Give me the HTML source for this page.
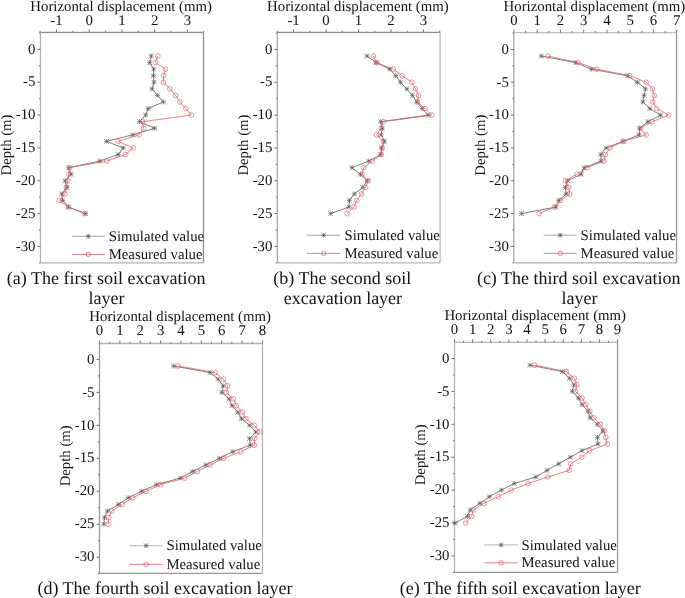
<!DOCTYPE html><html><head><meta charset="utf-8"><style>html,body{margin:0;padding:0;background:#fff;}svg{display:block;text-rendering:geometricPrecision;will-change:transform}</style></head><body><svg width="685" height="598" viewBox="0 0 685 598" font-family='"Liberation Serif", serif'>
<rect width="685" height="598" fill="#fff"/>
<path d="M40.44 32.44H203.48" stroke="#8a8a8a" stroke-width="1.3"/>
<path d="M40.44 32.44V262.78" stroke="#b4b4b4" stroke-width="1.3"/>
<path d="M203.48 32.44V262.78" stroke="#8c8c8c" stroke-width="1.3"/>
<path d="M40.44 262.78H203.48" stroke="#b0b0b0" stroke-width="1.3"/>
<path d="M40.09 32.44V30.84M56.46 32.44V29.44M72.83 32.44V30.84M89.20 32.44V29.44M105.57 32.44V30.84M121.94 32.44V29.44M138.31 32.44V30.84M154.68 32.44V29.44M171.05 32.44V30.84M187.42 32.44V29.44M203.79 32.44V30.84M40.44 32.95H38.94M40.44 49.38H37.44M40.44 65.81H38.94M40.44 82.23H37.44M40.44 98.66H38.94M40.44 115.09H37.44M40.44 131.52H38.94M40.44 147.94H37.44M40.44 164.37H38.94M40.44 180.80H37.44M40.44 197.23H38.94M40.44 213.66H37.44M40.44 230.08H38.94M40.44 246.51H37.44M40.44 262.94H38.94" stroke="#707070" stroke-width="1" fill="none"/>
<text x="56.46" y="24.54" font-size="14.8" text-anchor="middle" fill="#111">-1</text>
<text x="89.20" y="24.54" font-size="14.8" text-anchor="middle" fill="#111">0</text>
<text x="121.94" y="24.54" font-size="14.8" text-anchor="middle" fill="#111">1</text>
<text x="154.68" y="24.54" font-size="14.8" text-anchor="middle" fill="#111">2</text>
<text x="187.42" y="24.54" font-size="14.8" text-anchor="middle" fill="#111">3</text>
<text x="35.44" y="53.58" font-size="14.8" text-anchor="end" fill="#111">0</text>
<text x="35.44" y="86.44" font-size="14.8" text-anchor="end" fill="#111">-5</text>
<text x="35.44" y="119.29" font-size="14.8" text-anchor="end" fill="#111">-10</text>
<text x="35.44" y="152.14" font-size="14.8" text-anchor="end" fill="#111">-15</text>
<text x="35.44" y="185.00" font-size="14.8" text-anchor="end" fill="#111">-20</text>
<text x="35.44" y="217.85" font-size="14.8" text-anchor="end" fill="#111">-25</text>
<text x="35.44" y="250.71" font-size="14.8" text-anchor="end" fill="#111">-30</text>
<text x="121.16" y="10.70" font-size="14.8" text-anchor="middle" fill="#111">Horizontal displacement (mm)</text>
<text transform="translate(11.44,145.01) rotate(-90)" font-size="14.75" text-anchor="middle" fill="#111">Depth (m)</text>
<polyline points="151.30,55.95 149.70,62.52 153.80,69.09 153.40,75.66 154.00,82.23 152.00,88.81 157.50,95.38 163.50,101.95 148.20,108.52 145.60,115.09 139.50,121.66 154.60,128.23 132.90,134.80 106.40,141.37 123.30,147.94 118.30,154.52 99.70,161.09 68.80,167.66 71.10,174.23 65.00,180.80 66.90,187.37 61.70,193.94 62.80,200.51 68.40,207.08 85.40,213.66" fill="none" stroke="#606060" stroke-width="0.8"/>
<path d="M151.30 53.55V58.35M148.90 55.95H153.70M148.90 53.55L153.70 58.35M148.90 58.35L153.70 53.55M149.70 60.12V64.92M147.30 62.52H152.10M147.30 60.12L152.10 64.92M147.30 64.92L152.10 60.12M153.80 66.69V71.49M151.40 69.09H156.20M151.40 66.69L156.20 71.49M151.40 71.49L156.20 66.69M153.40 73.26V78.06M151.00 75.66H155.80M151.00 73.26L155.80 78.06M151.00 78.06L155.80 73.26M154.00 79.83V84.64M151.60 82.23H156.40M151.60 79.83L156.40 84.64M151.60 84.64L156.40 79.83M152.00 86.41V91.21M149.60 88.81H154.40M149.60 86.41L154.40 91.21M149.60 91.21L154.40 86.41M157.50 92.98V97.78M155.10 95.38H159.90M155.10 92.98L159.90 97.78M155.10 97.78L159.90 92.98M163.50 99.55V104.35M161.10 101.95H165.90M161.10 99.55L165.90 104.35M161.10 104.35L165.90 99.55M148.20 106.12V110.92M145.80 108.52H150.60M145.80 106.12L150.60 110.92M145.80 110.92L150.60 106.12M145.60 112.69V117.49M143.20 115.09H148.00M143.20 112.69L148.00 117.49M143.20 117.49L148.00 112.69M139.50 119.26V124.06M137.10 121.66H141.90M137.10 119.26L141.90 124.06M137.10 124.06L141.90 119.26M154.60 125.83V130.63M152.20 128.23H157.00M152.20 125.83L157.00 130.63M152.20 130.63L157.00 125.83M132.90 132.40V137.20M130.50 134.80H135.30M130.50 132.40L135.30 137.20M130.50 137.20L135.30 132.40M106.40 138.97V143.77M104.00 141.37H108.80M104.00 138.97L108.80 143.77M104.00 143.77L108.80 138.97M123.30 145.54V150.34M120.90 147.94H125.70M120.90 145.54L125.70 150.34M120.90 150.34L125.70 145.54M118.30 152.12V156.92M115.90 154.52H120.70M115.90 152.12L120.70 156.92M115.90 156.92L120.70 152.12M99.70 158.69V163.49M97.30 161.09H102.10M97.30 158.69L102.10 163.49M97.30 163.49L102.10 158.69M68.80 165.26V170.06M66.40 167.66H71.20M66.40 165.26L71.20 170.06M66.40 170.06L71.20 165.26M71.10 171.83V176.63M68.70 174.23H73.50M68.70 171.83L73.50 176.63M68.70 176.63L73.50 171.83M65.00 178.40V183.20M62.60 180.80H67.40M62.60 178.40L67.40 183.20M62.60 183.20L67.40 178.40M66.90 184.97V189.77M64.50 187.37H69.30M64.50 184.97L69.30 189.77M64.50 189.77L69.30 184.97M61.70 191.54V196.34M59.30 193.94H64.10M59.30 191.54L64.10 196.34M59.30 196.34L64.10 191.54M62.80 198.11V202.91M60.40 200.51H65.20M60.40 198.11L65.20 202.91M60.40 202.91L65.20 198.11M68.40 204.68V209.48M66.00 207.08H70.80M66.00 204.68L70.80 209.48M66.00 209.48L70.80 204.68M85.40 211.25V216.06M83.00 213.66H87.80M83.00 211.25L87.80 216.06M83.00 216.06L87.80 211.25" stroke="#555" stroke-width="0.6" fill="none"/>
<polyline points="157.80,55.95 155.40,62.52 165.40,69.09 163.60,75.66 163.50,82.23 169.80,88.81 175.50,95.38 179.80,101.95 185.80,108.52 191.30,115.09 142.60,121.66 143.50,128.23 139.20,134.80 118.20,141.37 133.10,147.94 125.40,154.52 106.70,161.09 69.30,167.66 68.80,174.23 67.80,180.80 66.30,187.37 65.00,193.94 59.30,200.51 68.40,207.08 84.90,213.66" fill="none" stroke="#e0606b" stroke-width="0.8"/>
<circle cx="157.80" cy="55.95" r="2.35" fill="none" stroke="#e0606b" stroke-width="0.65"/><circle cx="155.40" cy="62.52" r="2.35" fill="none" stroke="#e0606b" stroke-width="0.65"/><circle cx="165.40" cy="69.09" r="2.35" fill="none" stroke="#e0606b" stroke-width="0.65"/><circle cx="163.60" cy="75.66" r="2.35" fill="none" stroke="#e0606b" stroke-width="0.65"/><circle cx="163.50" cy="82.23" r="2.35" fill="none" stroke="#e0606b" stroke-width="0.65"/><circle cx="169.80" cy="88.81" r="2.35" fill="none" stroke="#e0606b" stroke-width="0.65"/><circle cx="175.50" cy="95.38" r="2.35" fill="none" stroke="#e0606b" stroke-width="0.65"/><circle cx="179.80" cy="101.95" r="2.35" fill="none" stroke="#e0606b" stroke-width="0.65"/><circle cx="185.80" cy="108.52" r="2.35" fill="none" stroke="#e0606b" stroke-width="0.65"/><circle cx="191.30" cy="115.09" r="2.35" fill="none" stroke="#e0606b" stroke-width="0.65"/><circle cx="142.60" cy="121.66" r="2.35" fill="none" stroke="#e0606b" stroke-width="0.65"/><circle cx="143.50" cy="128.23" r="2.35" fill="none" stroke="#e0606b" stroke-width="0.65"/><circle cx="139.20" cy="134.80" r="2.35" fill="none" stroke="#e0606b" stroke-width="0.65"/><circle cx="118.20" cy="141.37" r="2.35" fill="none" stroke="#e0606b" stroke-width="0.65"/><circle cx="133.10" cy="147.94" r="2.35" fill="none" stroke="#e0606b" stroke-width="0.65"/><circle cx="125.40" cy="154.52" r="2.35" fill="none" stroke="#e0606b" stroke-width="0.65"/><circle cx="106.70" cy="161.09" r="2.35" fill="none" stroke="#e0606b" stroke-width="0.65"/><circle cx="69.30" cy="167.66" r="2.35" fill="none" stroke="#e0606b" stroke-width="0.65"/><circle cx="68.80" cy="174.23" r="2.35" fill="none" stroke="#e0606b" stroke-width="0.65"/><circle cx="67.80" cy="180.80" r="2.35" fill="none" stroke="#e0606b" stroke-width="0.65"/><circle cx="66.30" cy="187.37" r="2.35" fill="none" stroke="#e0606b" stroke-width="0.65"/><circle cx="65.00" cy="193.94" r="2.35" fill="none" stroke="#e0606b" stroke-width="0.65"/><circle cx="59.30" cy="200.51" r="2.35" fill="none" stroke="#e0606b" stroke-width="0.65"/><circle cx="68.40" cy="207.08" r="2.35" fill="none" stroke="#e0606b" stroke-width="0.65"/><circle cx="84.90" cy="213.66" r="2.35" fill="none" stroke="#e0606b" stroke-width="0.65"/>
<path d="M71.74 236.28H104.94" stroke="#9a9a9a" stroke-width="0.9"/>
<path d="M88.34 234.08V238.48M86.14 236.28H90.54M86.14 234.08L90.54 238.48M86.14 238.48L90.54 234.08" stroke="#5a5a5a" stroke-width="0.7" fill="none"/>
<path d="M71.74 254.38H104.94" stroke="#e0606b" stroke-width="0.8"/>
<circle cx="88.34" cy="254.38" r="2.2" fill="none" stroke="#e0606b" stroke-width="0.75"/>
<text x="108.69" y="240.88" font-size="14.75" fill="#111">Simulated value</text>
<text x="108.69" y="258.98" font-size="14.75" fill="#111">Measured value</text>
<text x="106.10" y="284.00" font-size="18" text-anchor="middle" fill="#111">(a) The first soil excavation</text>
<text x="106.40" y="304.20" font-size="18" text-anchor="middle" fill="#111">layer</text>
<path d="M277.38 32.44H440.08" stroke="#888888" stroke-width="1.3"/>
<path d="M277.38 32.44V262.90" stroke="#a8a8a8" stroke-width="1.3"/>
<path d="M440.08 32.44V262.90" stroke="#bdbdbd" stroke-width="1.3"/>
<path d="M277.38 262.90H440.08" stroke="#b8b8b8" stroke-width="1.3"/>
<path d="M277.32 32.44V30.84M293.57 32.44V29.44M309.81 32.44V30.84M326.06 32.44V29.44M342.31 32.44V30.84M358.55 32.44V29.44M374.80 32.44V30.84M391.04 32.44V29.44M407.29 32.44V30.84M423.53 32.44V29.44M439.77 32.44V30.84M277.38 33.02H275.88M277.38 49.44H274.38M277.38 65.86H275.88M277.38 82.28H274.38M277.38 98.69H275.88M277.38 115.11H274.38M277.38 131.53H275.88M277.38 147.94H274.38M277.38 164.36H275.88M277.38 180.78H274.38M277.38 197.20H275.88M277.38 213.62H274.38M277.38 230.03H275.88M277.38 246.45H274.38M277.38 262.87H275.88" stroke="#707070" stroke-width="1" fill="none"/>
<text x="293.57" y="24.54" font-size="14.8" text-anchor="middle" fill="#111">-1</text>
<text x="326.06" y="24.54" font-size="14.8" text-anchor="middle" fill="#111">0</text>
<text x="358.55" y="24.54" font-size="14.8" text-anchor="middle" fill="#111">1</text>
<text x="391.04" y="24.54" font-size="14.8" text-anchor="middle" fill="#111">2</text>
<text x="423.53" y="24.54" font-size="14.8" text-anchor="middle" fill="#111">3</text>
<text x="272.38" y="53.64" font-size="14.8" text-anchor="end" fill="#111">0</text>
<text x="272.38" y="86.48" font-size="14.8" text-anchor="end" fill="#111">-5</text>
<text x="272.38" y="119.31" font-size="14.8" text-anchor="end" fill="#111">-10</text>
<text x="272.38" y="152.14" font-size="14.8" text-anchor="end" fill="#111">-15</text>
<text x="272.38" y="184.98" font-size="14.8" text-anchor="end" fill="#111">-20</text>
<text x="272.38" y="217.81" font-size="14.8" text-anchor="end" fill="#111">-25</text>
<text x="272.38" y="250.65" font-size="14.8" text-anchor="end" fill="#111">-30</text>
<text x="357.93" y="10.70" font-size="14.8" text-anchor="middle" fill="#111">Horizontal displacement (mm)</text>
<text transform="translate(248.38,145.07) rotate(-90)" font-size="14.75" text-anchor="middle" fill="#111">Depth (m)</text>
<polyline points="367.00,56.01 376.10,62.57 389.70,69.14 395.70,75.71 400.50,82.28 406.80,88.84 412.40,95.41 416.90,101.98 422.20,108.54 428.20,115.11 380.60,121.68 382.20,128.24 381.20,134.81 384.40,141.38 381.60,147.94 380.70,154.51 368.70,161.08 351.80,167.65 360.50,174.21 367.40,180.78 362.90,187.35 354.40,193.91 349.40,200.48 348.90,207.05 330.70,213.62" fill="none" stroke="#606060" stroke-width="0.8"/>
<path d="M367.00 53.61V58.41M364.60 56.01H369.40M364.60 53.61L369.40 58.41M364.60 58.41L369.40 53.61M376.10 60.17V64.97M373.70 62.57H378.50M373.70 60.17L378.50 64.97M373.70 64.97L378.50 60.17M389.70 66.74V71.54M387.30 69.14H392.10M387.30 66.74L392.10 71.54M387.30 71.54L392.10 66.74M395.70 73.31V78.11M393.30 75.71H398.10M393.30 73.31L398.10 78.11M393.30 78.11L398.10 73.31M400.50 79.88V84.68M398.10 82.28H402.90M398.10 79.88L402.90 84.68M398.10 84.68L402.90 79.88M406.80 86.44V91.24M404.40 88.84H409.20M404.40 86.44L409.20 91.24M404.40 91.24L409.20 86.44M412.40 93.01V97.81M410.00 95.41H414.80M410.00 93.01L414.80 97.81M410.00 97.81L414.80 93.01M416.90 99.58V104.38M414.50 101.98H419.30M414.50 99.58L419.30 104.38M414.50 104.38L419.30 99.58M422.20 106.14V110.94M419.80 108.54H424.60M419.80 106.14L424.60 110.94M419.80 110.94L424.60 106.14M428.20 112.71V117.51M425.80 115.11H430.60M425.80 112.71L430.60 117.51M425.80 117.51L430.60 112.71M380.60 119.28V124.08M378.20 121.68H383.00M378.20 119.28L383.00 124.08M378.20 124.08L383.00 119.28M382.20 125.84V130.64M379.80 128.24H384.60M379.80 125.84L384.60 130.64M379.80 130.64L384.60 125.84M381.20 132.41V137.21M378.80 134.81H383.60M378.80 132.41L383.60 137.21M378.80 137.21L383.60 132.41M384.40 138.98V143.78M382.00 141.38H386.80M382.00 138.98L386.80 143.78M382.00 143.78L386.80 138.98M381.60 145.54V150.34M379.20 147.94H384.00M379.20 145.54L384.00 150.34M379.20 150.34L384.00 145.54M380.70 152.11V156.91M378.30 154.51H383.10M378.30 152.11L383.10 156.91M378.30 156.91L383.10 152.11M368.70 158.68V163.48M366.30 161.08H371.10M366.30 158.68L371.10 163.48M366.30 163.48L371.10 158.68M351.80 165.25V170.05M349.40 167.65H354.20M349.40 165.25L354.20 170.05M349.40 170.05L354.20 165.25M360.50 171.81V176.61M358.10 174.21H362.90M358.10 171.81L362.90 176.61M358.10 176.61L362.90 171.81M367.40 178.38V183.18M365.00 180.78H369.80M365.00 178.38L369.80 183.18M365.00 183.18L369.80 178.38M362.90 184.95V189.75M360.50 187.35H365.30M360.50 184.95L365.30 189.75M360.50 189.75L365.30 184.95M354.40 191.51V196.31M352.00 193.91H356.80M352.00 191.51L356.80 196.31M352.00 196.31L356.80 191.51M349.40 198.08V202.88M347.00 200.48H351.80M347.00 198.08L351.80 202.88M347.00 202.88L351.80 198.08M348.90 204.65V209.45M346.50 207.05H351.30M346.50 204.65L351.30 209.45M346.50 209.45L351.30 204.65M330.70 211.22V216.02M328.30 213.62H333.10M328.30 211.22L333.10 216.02M328.30 216.02L333.10 211.22" stroke="#555" stroke-width="0.6" fill="none"/>
<polyline points="373.40,56.01 376.70,62.57 393.20,69.14 402.20,75.71 411.90,82.28 415.50,88.84 418.50,95.41 417.50,101.98 424.90,108.54 431.80,115.11 383.30,121.68 381.10,128.24 376.50,134.81 383.40,141.38 382.50,147.94 381.20,154.51 372.40,161.08 363.60,167.65 361.90,174.21 368.20,180.78 365.60,187.35 361.40,193.91 356.80,200.48 354.00,207.05 347.00,213.62" fill="none" stroke="#e0606b" stroke-width="0.8"/>
<circle cx="373.40" cy="56.01" r="2.35" fill="none" stroke="#e0606b" stroke-width="0.65"/><circle cx="376.70" cy="62.57" r="2.35" fill="none" stroke="#e0606b" stroke-width="0.65"/><circle cx="393.20" cy="69.14" r="2.35" fill="none" stroke="#e0606b" stroke-width="0.65"/><circle cx="402.20" cy="75.71" r="2.35" fill="none" stroke="#e0606b" stroke-width="0.65"/><circle cx="411.90" cy="82.28" r="2.35" fill="none" stroke="#e0606b" stroke-width="0.65"/><circle cx="415.50" cy="88.84" r="2.35" fill="none" stroke="#e0606b" stroke-width="0.65"/><circle cx="418.50" cy="95.41" r="2.35" fill="none" stroke="#e0606b" stroke-width="0.65"/><circle cx="417.50" cy="101.98" r="2.35" fill="none" stroke="#e0606b" stroke-width="0.65"/><circle cx="424.90" cy="108.54" r="2.35" fill="none" stroke="#e0606b" stroke-width="0.65"/><circle cx="431.80" cy="115.11" r="2.35" fill="none" stroke="#e0606b" stroke-width="0.65"/><circle cx="383.30" cy="121.68" r="2.35" fill="none" stroke="#e0606b" stroke-width="0.65"/><circle cx="381.10" cy="128.24" r="2.35" fill="none" stroke="#e0606b" stroke-width="0.65"/><circle cx="376.50" cy="134.81" r="2.35" fill="none" stroke="#e0606b" stroke-width="0.65"/><circle cx="383.40" cy="141.38" r="2.35" fill="none" stroke="#e0606b" stroke-width="0.65"/><circle cx="382.50" cy="147.94" r="2.35" fill="none" stroke="#e0606b" stroke-width="0.65"/><circle cx="381.20" cy="154.51" r="2.35" fill="none" stroke="#e0606b" stroke-width="0.65"/><circle cx="372.40" cy="161.08" r="2.35" fill="none" stroke="#e0606b" stroke-width="0.65"/><circle cx="363.60" cy="167.65" r="2.35" fill="none" stroke="#e0606b" stroke-width="0.65"/><circle cx="361.90" cy="174.21" r="2.35" fill="none" stroke="#e0606b" stroke-width="0.65"/><circle cx="368.20" cy="180.78" r="2.35" fill="none" stroke="#e0606b" stroke-width="0.65"/><circle cx="365.60" cy="187.35" r="2.35" fill="none" stroke="#e0606b" stroke-width="0.65"/><circle cx="361.40" cy="193.91" r="2.35" fill="none" stroke="#e0606b" stroke-width="0.65"/><circle cx="356.80" cy="200.48" r="2.35" fill="none" stroke="#e0606b" stroke-width="0.65"/><circle cx="354.00" cy="207.05" r="2.35" fill="none" stroke="#e0606b" stroke-width="0.65"/><circle cx="347.00" cy="213.62" r="2.35" fill="none" stroke="#e0606b" stroke-width="0.65"/>
<path d="M306.98 235.20H340.38" stroke="#9a9a9a" stroke-width="0.9"/>
<path d="M323.68 233.00V237.40M321.48 235.20H325.88M321.48 233.00L325.88 237.40M321.48 237.40L325.88 233.00" stroke="#5a5a5a" stroke-width="0.7" fill="none"/>
<path d="M306.98 253.40H340.38" stroke="#e0606b" stroke-width="0.8"/>
<circle cx="323.68" cy="253.40" r="2.2" fill="none" stroke="#e0606b" stroke-width="0.75"/>
<text x="344.43" y="239.80" font-size="14.75" fill="#111">Simulated value</text>
<text x="344.43" y="258.00" font-size="14.75" fill="#111">Measured value</text>
<text x="342.30" y="284.00" font-size="18" text-anchor="middle" fill="#111">(b) The second soil</text>
<text x="342.90" y="304.00" font-size="18" text-anchor="middle" fill="#111">excavation layer</text>
<path d="M513.85 32.67H676.55" stroke="#c0c0c0" stroke-width="1.3"/>
<path d="M513.85 32.67V262.78" stroke="#a8a8a8" stroke-width="1.3"/>
<path d="M676.55 32.67V262.78" stroke="#999999" stroke-width="1.3"/>
<path d="M513.85 262.78H676.55" stroke="#acacac" stroke-width="1.3"/>
<path d="M513.90 32.67V29.67M525.53 32.67V31.07M537.16 32.67V29.67M548.79 32.67V31.07M560.42 32.67V29.67M572.05 32.67V31.07M583.68 32.67V29.67M595.31 32.67V31.07M606.94 32.67V29.67M618.57 32.67V31.07M630.20 32.67V29.67M641.83 32.67V31.07M653.46 32.67V29.67M665.09 32.67V31.07M676.72 32.67V29.67M513.85 33.06H512.35M513.85 49.47H510.85M513.85 65.88H512.35M513.85 82.30H510.85M513.85 98.71H512.35M513.85 115.12H510.85M513.85 131.53H512.35M513.85 147.94H510.85M513.85 164.36H512.35M513.85 180.77H510.85M513.85 197.18H512.35M513.85 213.59H510.85M513.85 230.01H512.35M513.85 246.42H510.85M513.85 262.83H512.35" stroke="#707070" stroke-width="1" fill="none"/>
<text x="513.90" y="24.77" font-size="14.8" text-anchor="middle" fill="#111">0</text>
<text x="537.16" y="24.77" font-size="14.8" text-anchor="middle" fill="#111">1</text>
<text x="560.42" y="24.77" font-size="14.8" text-anchor="middle" fill="#111">2</text>
<text x="583.68" y="24.77" font-size="14.8" text-anchor="middle" fill="#111">3</text>
<text x="606.94" y="24.77" font-size="14.8" text-anchor="middle" fill="#111">4</text>
<text x="630.20" y="24.77" font-size="14.8" text-anchor="middle" fill="#111">5</text>
<text x="653.46" y="24.77" font-size="14.8" text-anchor="middle" fill="#111">6</text>
<text x="676.72" y="24.77" font-size="14.8" text-anchor="middle" fill="#111">7</text>
<text x="508.85" y="53.67" font-size="14.8" text-anchor="end" fill="#111">0</text>
<text x="508.85" y="86.50" font-size="14.8" text-anchor="end" fill="#111">-5</text>
<text x="508.85" y="119.32" font-size="14.8" text-anchor="end" fill="#111">-10</text>
<text x="508.85" y="152.14" font-size="14.8" text-anchor="end" fill="#111">-15</text>
<text x="508.85" y="184.97" font-size="14.8" text-anchor="end" fill="#111">-20</text>
<text x="508.85" y="217.79" font-size="14.8" text-anchor="end" fill="#111">-25</text>
<text x="508.85" y="250.62" font-size="14.8" text-anchor="end" fill="#111">-30</text>
<text x="594.40" y="10.70" font-size="14.8" text-anchor="middle" fill="#111">Horizontal displacement (mm)</text>
<text transform="translate(484.85,145.12) rotate(-90)" font-size="14.75" text-anchor="middle" fill="#111">Depth (m)</text>
<polyline points="541.30,56.03 575.50,62.60 591.50,69.16 627.40,75.73 637.50,82.30 645.50,88.86 644.10,95.43 642.80,101.99 649.80,108.56 660.60,115.12 647.90,121.69 639.70,128.25 639.10,134.81 623.00,141.38 606.00,147.94 600.90,154.51 601.00,161.07 584.20,167.64 581.30,174.21 567.60,180.77 565.40,187.34 566.10,193.90 558.80,200.47 555.90,207.03 521.60,213.59" fill="none" stroke="#606060" stroke-width="0.8"/>
<path d="M541.30 53.63V58.43M538.90 56.03H543.70M538.90 53.63L543.70 58.43M538.90 58.43L543.70 53.63M575.50 60.20V65.00M573.10 62.60H577.90M573.10 60.20L577.90 65.00M573.10 65.00L577.90 60.20M591.50 66.76V71.56M589.10 69.16H593.90M589.10 66.76L593.90 71.56M589.10 71.56L593.90 66.76M627.40 73.33V78.13M625.00 75.73H629.80M625.00 73.33L629.80 78.13M625.00 78.13L629.80 73.33M637.50 79.89V84.70M635.10 82.30H639.90M635.10 79.89L639.90 84.70M635.10 84.70L639.90 79.89M645.50 86.46V91.26M643.10 88.86H647.90M643.10 86.46L647.90 91.26M643.10 91.26L647.90 86.46M644.10 93.03V97.83M641.70 95.43H646.50M641.70 93.03L646.50 97.83M641.70 97.83L646.50 93.03M642.80 99.59V104.39M640.40 101.99H645.20M640.40 99.59L645.20 104.39M640.40 104.39L645.20 99.59M649.80 106.16V110.96M647.40 108.56H652.20M647.40 106.16L652.20 110.96M647.40 110.96L652.20 106.16M660.60 112.72V117.52M658.20 115.12H663.00M658.20 112.72L663.00 117.52M658.20 117.52L663.00 112.72M647.90 119.28V124.09M645.50 121.69H650.30M645.50 119.28L650.30 124.09M645.50 124.09L650.30 119.28M639.70 125.85V130.65M637.30 128.25H642.10M637.30 125.85L642.10 130.65M637.30 130.65L642.10 125.85M639.10 132.41V137.22M636.70 134.81H641.50M636.70 132.41L641.50 137.22M636.70 137.22L641.50 132.41M623.00 138.98V143.78M620.60 141.38H625.40M620.60 138.98L625.40 143.78M620.60 143.78L625.40 138.98M606.00 145.54V150.34M603.60 147.94H608.40M603.60 145.54L608.40 150.34M603.60 150.34L608.40 145.54M600.90 152.11V156.91M598.50 154.51H603.30M598.50 152.11L603.30 156.91M598.50 156.91L603.30 152.11M601.00 158.67V163.47M598.60 161.07H603.40M598.60 158.67L603.40 163.47M598.60 163.47L603.40 158.67M584.20 165.24V170.04M581.80 167.64H586.60M581.80 165.24L586.60 170.04M581.80 170.04L586.60 165.24M581.30 171.81V176.61M578.90 174.21H583.70M578.90 171.81L583.70 176.61M578.90 176.61L583.70 171.81M567.60 178.37V183.17M565.20 180.77H570.00M565.20 178.37L570.00 183.17M565.20 183.17L570.00 178.37M565.40 184.94V189.74M563.00 187.34H567.80M563.00 184.94L567.80 189.74M563.00 189.74L567.80 184.94M566.10 191.50V196.30M563.70 193.90H568.50M563.70 191.50L568.50 196.30M563.70 196.30L568.50 191.50M558.80 198.06V202.87M556.40 200.47H561.20M556.40 198.06L561.20 202.87M556.40 202.87L561.20 198.06M555.90 204.63V209.43M553.50 207.03H558.30M553.50 204.63L558.30 209.43M553.50 209.43L558.30 204.63M521.60 211.19V216.00M519.20 213.59H524.00M519.20 211.19L524.00 216.00M519.20 216.00L524.00 211.19" stroke="#555" stroke-width="0.6" fill="none"/>
<polyline points="547.80,56.03 578.10,62.60 596.80,69.16 629.70,75.73 646.20,82.30 652.40,88.86 654.20,95.43 652.80,101.99 656.90,108.56 668.60,115.12 652.20,121.69 640.10,128.25 646.20,134.81 623.40,141.38 610.10,147.94 605.40,154.51 603.90,161.07 587.00,167.64 576.90,174.21 565.40,180.77 568.70,187.34 569.70,193.90 560.50,200.47 554.40,207.03 539.10,213.59" fill="none" stroke="#e0606b" stroke-width="0.8"/>
<circle cx="547.80" cy="56.03" r="2.35" fill="none" stroke="#e0606b" stroke-width="0.65"/><circle cx="578.10" cy="62.60" r="2.35" fill="none" stroke="#e0606b" stroke-width="0.65"/><circle cx="596.80" cy="69.16" r="2.35" fill="none" stroke="#e0606b" stroke-width="0.65"/><circle cx="629.70" cy="75.73" r="2.35" fill="none" stroke="#e0606b" stroke-width="0.65"/><circle cx="646.20" cy="82.30" r="2.35" fill="none" stroke="#e0606b" stroke-width="0.65"/><circle cx="652.40" cy="88.86" r="2.35" fill="none" stroke="#e0606b" stroke-width="0.65"/><circle cx="654.20" cy="95.43" r="2.35" fill="none" stroke="#e0606b" stroke-width="0.65"/><circle cx="652.80" cy="101.99" r="2.35" fill="none" stroke="#e0606b" stroke-width="0.65"/><circle cx="656.90" cy="108.56" r="2.35" fill="none" stroke="#e0606b" stroke-width="0.65"/><circle cx="668.60" cy="115.12" r="2.35" fill="none" stroke="#e0606b" stroke-width="0.65"/><circle cx="652.20" cy="121.69" r="2.35" fill="none" stroke="#e0606b" stroke-width="0.65"/><circle cx="640.10" cy="128.25" r="2.35" fill="none" stroke="#e0606b" stroke-width="0.65"/><circle cx="646.20" cy="134.81" r="2.35" fill="none" stroke="#e0606b" stroke-width="0.65"/><circle cx="623.40" cy="141.38" r="2.35" fill="none" stroke="#e0606b" stroke-width="0.65"/><circle cx="610.10" cy="147.94" r="2.35" fill="none" stroke="#e0606b" stroke-width="0.65"/><circle cx="605.40" cy="154.51" r="2.35" fill="none" stroke="#e0606b" stroke-width="0.65"/><circle cx="603.90" cy="161.07" r="2.35" fill="none" stroke="#e0606b" stroke-width="0.65"/><circle cx="587.00" cy="167.64" r="2.35" fill="none" stroke="#e0606b" stroke-width="0.65"/><circle cx="576.90" cy="174.21" r="2.35" fill="none" stroke="#e0606b" stroke-width="0.65"/><circle cx="565.40" cy="180.77" r="2.35" fill="none" stroke="#e0606b" stroke-width="0.65"/><circle cx="568.70" cy="187.34" r="2.35" fill="none" stroke="#e0606b" stroke-width="0.65"/><circle cx="569.70" cy="193.90" r="2.35" fill="none" stroke="#e0606b" stroke-width="0.65"/><circle cx="560.50" cy="200.47" r="2.35" fill="none" stroke="#e0606b" stroke-width="0.65"/><circle cx="554.40" cy="207.03" r="2.35" fill="none" stroke="#e0606b" stroke-width="0.65"/><circle cx="539.10" cy="213.59" r="2.35" fill="none" stroke="#e0606b" stroke-width="0.65"/>
<path d="M543.65 235.18H576.85" stroke="#9a9a9a" stroke-width="0.9"/>
<path d="M560.25 232.98V237.38M558.05 235.18H562.45M558.05 232.98L562.45 237.38M558.05 237.38L562.45 232.98" stroke="#5a5a5a" stroke-width="0.7" fill="none"/>
<path d="M543.65 253.38H576.85" stroke="#e0606b" stroke-width="0.8"/>
<circle cx="560.25" cy="253.38" r="2.2" fill="none" stroke="#e0606b" stroke-width="0.75"/>
<text x="580.60" y="239.78" font-size="14.75" fill="#111">Simulated value</text>
<text x="580.60" y="257.98" font-size="14.75" fill="#111">Measured value</text>
<text x="578.70" y="284.00" font-size="18" text-anchor="middle" fill="#111">(c) The third soil excavation</text>
<text x="579.40" y="304.10" font-size="18" text-anchor="middle" fill="#111">layer</text>
<path d="M99.49 343.49H262.43" stroke="#b4b4b4" stroke-width="1.3"/>
<path d="M99.49 343.49V573.37" stroke="#999999" stroke-width="1.3"/>
<path d="M262.43 343.49V573.37" stroke="#b4b4b4" stroke-width="1.3"/>
<path d="M99.49 573.37H262.43" stroke="#999999" stroke-width="1.3"/>
<path d="M99.49 343.49V340.49M109.67 343.49V341.89M119.86 343.49V340.49M130.04 343.49V341.89M140.23 343.49V340.49M150.41 343.49V341.89M160.60 343.49V340.49M170.78 343.49V341.89M180.97 343.49V340.49M191.16 343.49V341.89M201.34 343.49V340.49M211.53 343.49V341.89M221.71 343.49V340.49M231.89 343.49V341.89M242.08 343.49V340.49M252.26 343.49V341.89M262.45 343.49V340.49M99.49 359.44H96.49M99.49 375.92H97.99M99.49 392.39H96.49M99.49 408.87H97.99M99.49 425.34H96.49M99.49 441.81H97.99M99.49 458.29H96.49M99.49 474.76H97.99M99.49 491.24H96.49M99.49 507.72H97.99M99.49 524.19H96.49M99.49 540.66H97.99M99.49 557.14H96.49M99.49 573.62H97.99" stroke="#707070" stroke-width="1" fill="none"/>
<text x="99.49" y="335.09" font-size="14.8" text-anchor="middle" fill="#111">0</text>
<text x="119.86" y="335.09" font-size="14.8" text-anchor="middle" fill="#111">1</text>
<text x="140.23" y="335.09" font-size="14.8" text-anchor="middle" fill="#111">2</text>
<text x="160.60" y="335.09" font-size="14.8" text-anchor="middle" fill="#111">3</text>
<text x="180.97" y="335.09" font-size="14.8" text-anchor="middle" fill="#111">4</text>
<text x="201.34" y="335.09" font-size="14.8" text-anchor="middle" fill="#111">5</text>
<text x="221.71" y="335.09" font-size="14.8" text-anchor="middle" fill="#111">6</text>
<text x="242.08" y="335.09" font-size="14.8" text-anchor="middle" fill="#111">7</text>
<text x="262.45" y="335.09" font-size="14.8" text-anchor="middle" fill="#111">8</text>
<text x="94.49" y="363.64" font-size="14.8" text-anchor="end" fill="#111">0</text>
<text x="94.49" y="396.59" font-size="14.8" text-anchor="end" fill="#111">-5</text>
<text x="94.49" y="429.54" font-size="14.8" text-anchor="end" fill="#111">-10</text>
<text x="94.49" y="462.49" font-size="14.8" text-anchor="end" fill="#111">-15</text>
<text x="94.49" y="495.44" font-size="14.8" text-anchor="end" fill="#111">-20</text>
<text x="94.49" y="528.39" font-size="14.8" text-anchor="end" fill="#111">-25</text>
<text x="94.49" y="561.34" font-size="14.8" text-anchor="end" fill="#111">-30</text>
<text x="180.16" y="320.85" font-size="14.8" text-anchor="middle" fill="#111">Horizontal displacement (mm)</text>
<text transform="translate(70.49,455.83) rotate(-90)" font-size="14.75" text-anchor="middle" fill="#111">Depth (m)</text>
<polyline points="173.60,366.03 210.10,372.62 218.20,379.21 223.30,385.80 221.80,392.39 229.10,398.98 232.00,405.57 237.90,412.16 241.50,418.75 249.60,425.34 255.80,431.93 249.60,438.52 250.30,445.11 232.80,451.70 219.60,458.29 205.80,464.88 192.60,471.47 180.30,478.06 156.30,484.65 141.70,491.24 128.30,497.83 118.40,504.42 107.40,511.01 104.50,517.60 103.80,524.19" fill="none" stroke="#606060" stroke-width="0.8"/>
<path d="M173.60 363.63V368.43M171.20 366.03H176.00M171.20 363.63L176.00 368.43M171.20 368.43L176.00 363.63M210.10 370.22V375.02M207.70 372.62H212.50M207.70 370.22L212.50 375.02M207.70 375.02L212.50 370.22M218.20 376.81V381.61M215.80 379.21H220.60M215.80 376.81L220.60 381.61M215.80 381.61L220.60 376.81M223.30 383.40V388.20M220.90 385.80H225.70M220.90 383.40L225.70 388.20M220.90 388.20L225.70 383.40M221.80 389.99V394.79M219.40 392.39H224.20M219.40 389.99L224.20 394.79M219.40 394.79L224.20 389.99M229.10 396.58V401.38M226.70 398.98H231.50M226.70 396.58L231.50 401.38M226.70 401.38L231.50 396.58M232.00 403.17V407.97M229.60 405.57H234.40M229.60 403.17L234.40 407.97M229.60 407.97L234.40 403.17M237.90 409.76V414.56M235.50 412.16H240.30M235.50 409.76L240.30 414.56M235.50 414.56L240.30 409.76M241.50 416.35V421.15M239.10 418.75H243.90M239.10 416.35L243.90 421.15M239.10 421.15L243.90 416.35M249.60 422.94V427.74M247.20 425.34H252.00M247.20 422.94L252.00 427.74M247.20 427.74L252.00 422.94M255.80 429.53V434.33M253.40 431.93H258.20M253.40 429.53L258.20 434.33M253.40 434.33L258.20 429.53M249.60 436.12V440.92M247.20 438.52H252.00M247.20 436.12L252.00 440.92M247.20 440.92L252.00 436.12M250.30 442.71V447.51M247.90 445.11H252.70M247.90 442.71L252.70 447.51M247.90 447.51L252.70 442.71M232.80 449.30V454.10M230.40 451.70H235.20M230.40 449.30L235.20 454.10M230.40 454.10L235.20 449.30M219.60 455.89V460.69M217.20 458.29H222.00M217.20 455.89L222.00 460.69M217.20 460.69L222.00 455.89M205.80 462.48V467.28M203.40 464.88H208.20M203.40 462.48L208.20 467.28M203.40 467.28L208.20 462.48M192.60 469.07V473.87M190.20 471.47H195.00M190.20 469.07L195.00 473.87M190.20 473.87L195.00 469.07M180.30 475.66V480.46M177.90 478.06H182.70M177.90 475.66L182.70 480.46M177.90 480.46L182.70 475.66M156.30 482.25V487.05M153.90 484.65H158.70M153.90 482.25L158.70 487.05M153.90 487.05L158.70 482.25M141.70 488.84V493.64M139.30 491.24H144.10M139.30 488.84L144.10 493.64M139.30 493.64L144.10 488.84M128.30 495.43V500.23M125.90 497.83H130.70M125.90 495.43L130.70 500.23M125.90 500.23L130.70 495.43M118.40 502.02V506.82M116.00 504.42H120.80M116.00 502.02L120.80 506.82M116.00 506.82L120.80 502.02M107.40 508.61V513.41M105.00 511.01H109.80M105.00 508.61L109.80 513.41M105.00 513.41L109.80 508.61M104.50 515.20V520.00M102.10 517.60H106.90M102.10 515.20L106.90 520.00M102.10 520.00L106.90 515.20M103.80 521.79V526.59M101.40 524.19H106.20M101.40 521.79L106.20 526.59M101.40 526.59L106.20 521.79" stroke="#555" stroke-width="0.6" fill="none"/>
<polyline points="178.00,366.03 215.30,372.62 223.30,379.21 227.70,385.80 226.20,392.39 233.50,398.98 236.40,405.57 242.60,412.16 245.90,418.75 254.40,425.34 259.80,431.93 254.70,438.52 254.40,445.11 240.80,451.70 223.70,458.29 210.10,464.88 197.30,471.47 184.70,478.06 160.70,484.65 146.10,491.24 132.70,497.83 122.40,504.42 111.80,511.01 108.90,517.60 108.10,524.19" fill="none" stroke="#e0606b" stroke-width="0.8"/>
<circle cx="178.00" cy="366.03" r="2.35" fill="none" stroke="#e0606b" stroke-width="0.65"/><circle cx="215.30" cy="372.62" r="2.35" fill="none" stroke="#e0606b" stroke-width="0.65"/><circle cx="223.30" cy="379.21" r="2.35" fill="none" stroke="#e0606b" stroke-width="0.65"/><circle cx="227.70" cy="385.80" r="2.35" fill="none" stroke="#e0606b" stroke-width="0.65"/><circle cx="226.20" cy="392.39" r="2.35" fill="none" stroke="#e0606b" stroke-width="0.65"/><circle cx="233.50" cy="398.98" r="2.35" fill="none" stroke="#e0606b" stroke-width="0.65"/><circle cx="236.40" cy="405.57" r="2.35" fill="none" stroke="#e0606b" stroke-width="0.65"/><circle cx="242.60" cy="412.16" r="2.35" fill="none" stroke="#e0606b" stroke-width="0.65"/><circle cx="245.90" cy="418.75" r="2.35" fill="none" stroke="#e0606b" stroke-width="0.65"/><circle cx="254.40" cy="425.34" r="2.35" fill="none" stroke="#e0606b" stroke-width="0.65"/><circle cx="259.80" cy="431.93" r="2.35" fill="none" stroke="#e0606b" stroke-width="0.65"/><circle cx="254.70" cy="438.52" r="2.35" fill="none" stroke="#e0606b" stroke-width="0.65"/><circle cx="254.40" cy="445.11" r="2.35" fill="none" stroke="#e0606b" stroke-width="0.65"/><circle cx="240.80" cy="451.70" r="2.35" fill="none" stroke="#e0606b" stroke-width="0.65"/><circle cx="223.70" cy="458.29" r="2.35" fill="none" stroke="#e0606b" stroke-width="0.65"/><circle cx="210.10" cy="464.88" r="2.35" fill="none" stroke="#e0606b" stroke-width="0.65"/><circle cx="197.30" cy="471.47" r="2.35" fill="none" stroke="#e0606b" stroke-width="0.65"/><circle cx="184.70" cy="478.06" r="2.35" fill="none" stroke="#e0606b" stroke-width="0.65"/><circle cx="160.70" cy="484.65" r="2.35" fill="none" stroke="#e0606b" stroke-width="0.65"/><circle cx="146.10" cy="491.24" r="2.35" fill="none" stroke="#e0606b" stroke-width="0.65"/><circle cx="132.70" cy="497.83" r="2.35" fill="none" stroke="#e0606b" stroke-width="0.65"/><circle cx="122.40" cy="504.42" r="2.35" fill="none" stroke="#e0606b" stroke-width="0.65"/><circle cx="111.80" cy="511.01" r="2.35" fill="none" stroke="#e0606b" stroke-width="0.65"/><circle cx="108.90" cy="517.60" r="2.35" fill="none" stroke="#e0606b" stroke-width="0.65"/><circle cx="108.10" cy="524.19" r="2.35" fill="none" stroke="#e0606b" stroke-width="0.65"/>
<path d="M129.39 545.67H162.89" stroke="#c4c4c4" stroke-width="1.3"/>
<path d="M146.14 543.47V547.87M143.94 545.67H148.34M143.94 543.47L148.34 547.87M143.94 547.87L148.34 543.47" stroke="#5a5a5a" stroke-width="0.7" fill="none"/>
<path d="M129.39 564.37H162.89" stroke="#e0606b" stroke-width="0.8"/>
<circle cx="146.14" cy="564.37" r="2.2" fill="none" stroke="#e0606b" stroke-width="0.75"/>
<text x="166.44" y="550.27" font-size="14.75" fill="#111">Simulated value</text>
<text x="166.44" y="568.97" font-size="14.75" fill="#111">Measured value</text>
<text x="165.00" y="594.00" font-size="18" text-anchor="middle" fill="#111">(d) The fourth soil excavation layer</text>
<path d="M454.49 342.37H617.55" stroke="#b4b4b4" stroke-width="1.3"/>
<path d="M454.49 342.37V572.43" stroke="#b4b4b4" stroke-width="1.3"/>
<path d="M617.55 342.37V572.43" stroke="#999999" stroke-width="1.3"/>
<path d="M454.49 572.43H617.55" stroke="#999999" stroke-width="1.3"/>
<path d="M454.49 342.37V339.37M463.55 342.37V340.77M472.61 342.37V339.37M481.67 342.37V340.77M490.73 342.37V339.37M499.79 342.37V340.77M508.85 342.37V339.37M517.91 342.37V340.77M526.97 342.37V339.37M536.03 342.37V340.77M545.09 342.37V339.37M554.15 342.37V340.77M563.21 342.37V339.37M572.27 342.37V340.77M581.33 342.37V339.37M590.39 342.37V340.77M599.45 342.37V339.37M608.51 342.37V340.77M617.57 342.37V339.37M454.49 358.50H451.49M454.49 374.95H452.99M454.49 391.40H451.49M454.49 407.85H452.99M454.49 424.30H451.49M454.49 440.75H452.99M454.49 457.20H451.49M454.49 473.65H452.99M454.49 490.10H451.49M454.49 506.55H452.99M454.49 523.00H451.49M454.49 539.45H452.99M454.49 555.90H451.49M454.49 572.35H452.99" stroke="#707070" stroke-width="1" fill="none"/>
<text x="454.49" y="334.47" font-size="14.8" text-anchor="middle" fill="#111">0</text>
<text x="472.61" y="334.47" font-size="14.8" text-anchor="middle" fill="#111">1</text>
<text x="490.73" y="334.47" font-size="14.8" text-anchor="middle" fill="#111">2</text>
<text x="508.85" y="334.47" font-size="14.8" text-anchor="middle" fill="#111">3</text>
<text x="526.97" y="334.47" font-size="14.8" text-anchor="middle" fill="#111">4</text>
<text x="545.09" y="334.47" font-size="14.8" text-anchor="middle" fill="#111">5</text>
<text x="563.21" y="334.47" font-size="14.8" text-anchor="middle" fill="#111">6</text>
<text x="581.33" y="334.47" font-size="14.8" text-anchor="middle" fill="#111">7</text>
<text x="599.45" y="334.47" font-size="14.8" text-anchor="middle" fill="#111">8</text>
<text x="617.57" y="334.47" font-size="14.8" text-anchor="middle" fill="#111">9</text>
<text x="449.49" y="362.70" font-size="14.8" text-anchor="end" fill="#111">0</text>
<text x="449.49" y="395.60" font-size="14.8" text-anchor="end" fill="#111">-5</text>
<text x="449.49" y="428.50" font-size="14.8" text-anchor="end" fill="#111">-10</text>
<text x="449.49" y="461.40" font-size="14.8" text-anchor="end" fill="#111">-15</text>
<text x="449.49" y="494.30" font-size="14.8" text-anchor="end" fill="#111">-20</text>
<text x="449.49" y="527.20" font-size="14.8" text-anchor="end" fill="#111">-25</text>
<text x="449.49" y="560.10" font-size="14.8" text-anchor="end" fill="#111">-30</text>
<text x="535.22" y="319.70" font-size="14.8" text-anchor="middle" fill="#111">Horizontal displacement (mm)</text>
<text transform="translate(425.49,454.80) rotate(-90)" font-size="14.75" text-anchor="middle" fill="#111">Depth (m)</text>
<polyline points="529.90,365.08 562.30,371.66 569.60,378.24 574.00,384.82 572.30,391.40 578.40,397.98 582.00,404.56 587.90,411.14 590.10,417.72 597.30,424.30 602.90,430.88 597.40,437.46 598.10,444.04 582.00,450.62 570.40,457.20 558.70,463.78 547.10,470.36 535.90,476.94 514.20,483.52 501.40,490.10 489.40,496.68 479.90,503.26 470.40,509.84 467.50,516.42 455.10,523.00" fill="none" stroke="#606060" stroke-width="0.8"/>
<path d="M529.90 362.68V367.48M527.50 365.08H532.30M527.50 362.68L532.30 367.48M527.50 367.48L532.30 362.68M562.30 369.26V374.06M559.90 371.66H564.70M559.90 369.26L564.70 374.06M559.90 374.06L564.70 369.26M569.60 375.84V380.64M567.20 378.24H572.00M567.20 375.84L572.00 380.64M567.20 380.64L572.00 375.84M574.00 382.42V387.22M571.60 384.82H576.40M571.60 382.42L576.40 387.22M571.60 387.22L576.40 382.42M572.30 389.00V393.80M569.90 391.40H574.70M569.90 389.00L574.70 393.80M569.90 393.80L574.70 389.00M578.40 395.58V400.38M576.00 397.98H580.80M576.00 395.58L580.80 400.38M576.00 400.38L580.80 395.58M582.00 402.16V406.96M579.60 404.56H584.40M579.60 402.16L584.40 406.96M579.60 406.96L584.40 402.16M587.90 408.74V413.54M585.50 411.14H590.30M585.50 408.74L590.30 413.54M585.50 413.54L590.30 408.74M590.10 415.32V420.12M587.70 417.72H592.50M587.70 415.32L592.50 420.12M587.70 420.12L592.50 415.32M597.30 421.90V426.70M594.90 424.30H599.70M594.90 421.90L599.70 426.70M594.90 426.70L599.70 421.90M602.90 428.48V433.28M600.50 430.88H605.30M600.50 428.48L605.30 433.28M600.50 433.28L605.30 428.48M597.40 435.06V439.86M595.00 437.46H599.80M595.00 435.06L599.80 439.86M595.00 439.86L599.80 435.06M598.10 441.64V446.44M595.70 444.04H600.50M595.70 441.64L600.50 446.44M595.70 446.44L600.50 441.64M582.00 448.22V453.02M579.60 450.62H584.40M579.60 448.22L584.40 453.02M579.60 453.02L584.40 448.22M570.40 454.80V459.60M568.00 457.20H572.80M568.00 454.80L572.80 459.60M568.00 459.60L572.80 454.80M558.70 461.38V466.18M556.30 463.78H561.10M556.30 461.38L561.10 466.18M556.30 466.18L561.10 461.38M547.10 467.96V472.76M544.70 470.36H549.50M544.70 467.96L549.50 472.76M544.70 472.76L549.50 467.96M535.90 474.54V479.34M533.50 476.94H538.30M533.50 474.54L538.30 479.34M533.50 479.34L538.30 474.54M514.20 481.12V485.92M511.80 483.52H516.60M511.80 481.12L516.60 485.92M511.80 485.92L516.60 481.12M501.40 487.70V492.50M499.00 490.10H503.80M499.00 487.70L503.80 492.50M499.00 492.50L503.80 487.70M489.40 494.28V499.08M487.00 496.68H491.80M487.00 494.28L491.80 499.08M487.00 499.08L491.80 494.28M479.90 500.86V505.66M477.50 503.26H482.30M477.50 500.86L482.30 505.66M477.50 505.66L482.30 500.86M470.40 507.44V512.24M468.00 509.84H472.80M468.00 507.44L472.80 512.24M468.00 512.24L472.80 507.44M467.50 514.02V518.82M465.10 516.42H469.90M465.10 514.02L469.90 518.82M465.10 518.82L469.90 514.02M455.10 520.60V525.40M452.70 523.00H457.50M452.70 520.60L457.50 525.40M452.70 525.40L457.50 520.60" stroke="#555" stroke-width="0.6" fill="none"/>
<polyline points="534.60,365.08 566.40,371.66 574.30,378.24 576.90,384.82 575.50,391.40 582.00,397.98 585.70,404.56 589.80,411.14 593.70,417.72 600.30,424.30 604.00,430.88 605.70,437.46 607.30,444.04 589.60,450.62 581.80,457.20 570.70,463.78 569.20,470.36 547.80,476.94 528.10,483.52 511.30,490.10 498.20,496.68 483.90,503.26 473.40,509.84 471.60,516.42 465.80,523.00" fill="none" stroke="#e0606b" stroke-width="0.8"/>
<circle cx="534.60" cy="365.08" r="2.35" fill="none" stroke="#e0606b" stroke-width="0.65"/><circle cx="566.40" cy="371.66" r="2.35" fill="none" stroke="#e0606b" stroke-width="0.65"/><circle cx="574.30" cy="378.24" r="2.35" fill="none" stroke="#e0606b" stroke-width="0.65"/><circle cx="576.90" cy="384.82" r="2.35" fill="none" stroke="#e0606b" stroke-width="0.65"/><circle cx="575.50" cy="391.40" r="2.35" fill="none" stroke="#e0606b" stroke-width="0.65"/><circle cx="582.00" cy="397.98" r="2.35" fill="none" stroke="#e0606b" stroke-width="0.65"/><circle cx="585.70" cy="404.56" r="2.35" fill="none" stroke="#e0606b" stroke-width="0.65"/><circle cx="589.80" cy="411.14" r="2.35" fill="none" stroke="#e0606b" stroke-width="0.65"/><circle cx="593.70" cy="417.72" r="2.35" fill="none" stroke="#e0606b" stroke-width="0.65"/><circle cx="600.30" cy="424.30" r="2.35" fill="none" stroke="#e0606b" stroke-width="0.65"/><circle cx="604.00" cy="430.88" r="2.35" fill="none" stroke="#e0606b" stroke-width="0.65"/><circle cx="605.70" cy="437.46" r="2.35" fill="none" stroke="#e0606b" stroke-width="0.65"/><circle cx="607.30" cy="444.04" r="2.35" fill="none" stroke="#e0606b" stroke-width="0.65"/><circle cx="589.60" cy="450.62" r="2.35" fill="none" stroke="#e0606b" stroke-width="0.65"/><circle cx="581.80" cy="457.20" r="2.35" fill="none" stroke="#e0606b" stroke-width="0.65"/><circle cx="570.70" cy="463.78" r="2.35" fill="none" stroke="#e0606b" stroke-width="0.65"/><circle cx="569.20" cy="470.36" r="2.35" fill="none" stroke="#e0606b" stroke-width="0.65"/><circle cx="547.80" cy="476.94" r="2.35" fill="none" stroke="#e0606b" stroke-width="0.65"/><circle cx="528.10" cy="483.52" r="2.35" fill="none" stroke="#e0606b" stroke-width="0.65"/><circle cx="511.30" cy="490.10" r="2.35" fill="none" stroke="#e0606b" stroke-width="0.65"/><circle cx="498.20" cy="496.68" r="2.35" fill="none" stroke="#e0606b" stroke-width="0.65"/><circle cx="483.90" cy="503.26" r="2.35" fill="none" stroke="#e0606b" stroke-width="0.65"/><circle cx="473.40" cy="509.84" r="2.35" fill="none" stroke="#e0606b" stroke-width="0.65"/><circle cx="471.60" cy="516.42" r="2.35" fill="none" stroke="#e0606b" stroke-width="0.65"/><circle cx="465.80" cy="523.00" r="2.35" fill="none" stroke="#e0606b" stroke-width="0.65"/>
<path d="M484.39 544.93H517.89" stroke="#c4c4c4" stroke-width="1.3"/>
<path d="M501.14 542.73V547.13M498.94 544.93H503.34M498.94 542.73L503.34 547.13M498.94 547.13L503.34 542.73" stroke="#5a5a5a" stroke-width="0.7" fill="none"/>
<path d="M484.39 562.83H517.89" stroke="#e0606b" stroke-width="0.8"/>
<circle cx="501.14" cy="562.83" r="2.2" fill="none" stroke="#e0606b" stroke-width="0.75"/>
<text x="521.44" y="549.53" font-size="14.75" fill="#111">Simulated value</text>
<text x="521.44" y="567.43" font-size="14.75" fill="#111">Measured value</text>
<text x="520.20" y="594.00" font-size="18" text-anchor="middle" fill="#111">(e) The fifth soil excavation layer</text>
</svg></body></html>
